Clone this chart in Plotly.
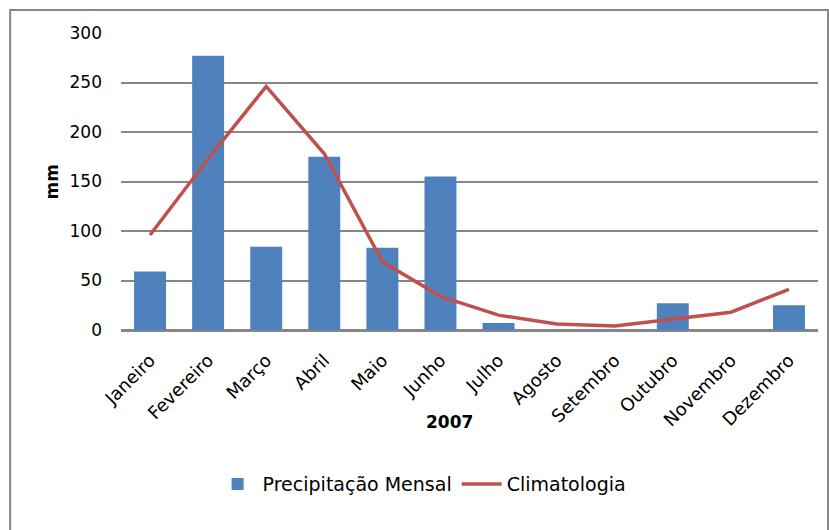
import plotly.graph_objects as go

months = ["Janeiro", "Fevereiro", "Março", "Abril", "Maio", "Junho",
          "Julho", "Agosto", "Setembro", "Outubro", "Novembro", "Dezembro"]
precipitacao = [59, 277, 84, 175, 83, 155, 7, 0, 0, 27, 0, 25]
climatologia = [96, 173, 246, 178, 69, 34, 15, 6, 4, 11, 18, 41]
y_ticks = [0, 50, 100, 150, 200, 250, 300]

FONT = "DejaVu Sans"
GRID = "#868686"

fig = go.Figure()
fig.add_trace(go.Bar(x=months, y=precipitacao, name="Precipitação Mensal",
                     marker=dict(color="#4F81BD", line=dict(width=0))))
fig.add_trace(go.Scatter(x=months, y=climatologia, name="Climatologia", mode="lines",
                         line=dict(color="#C0504D", width=3.5)))

fig.update_layout(
    width=829, height=530,
    margin=dict(l=121, r=11, t=33, b=200),
    paper_bgcolor="white", plot_bgcolor="white",
    font=dict(family=FONT, size=17, color="#000000"),
    bargap=0.45,
    showlegend=True,
    legend=dict(orientation="h", x=0.432, xanchor="center", y=-0.519, yanchor="middle",
                font=dict(family=FONT, size=19), itemwidth=40, tracegroupgap=0,
                traceorder="normal"),
    xaxis=dict(tickangle=-45, showgrid=False, showline=True, linecolor=GRID, linewidth=1.5,
               ticks="", tickfont=dict(family=FONT, size=18),
               ticklabelstandoff=11),
    yaxis=dict(range=[0, 300], tickvals=y_ticks, showgrid=True, gridcolor=GRID, gridwidth=1.5,
               zeroline=True, zerolinecolor=GRID, zerolinewidth=1.5, showline=False, ticks="",
               tickfont=dict(family=FONT, size=17), ticklabelstandoff=18),
    annotations=[
        dict(text="<b>2007</b>", xref="paper", yref="paper", x=0.472, y=-0.31,
             showarrow=False, font=dict(family=FONT, size=17), xanchor="center", yanchor="middle"),
        dict(text="<b>mm</b>", xref="paper", yref="paper", x=-0.099, y=0.5, textangle=-90,
             showarrow=False, font=dict(family=FONT, size=17), xanchor="center", yanchor="middle"),
    ],
    shapes=[
        dict(type="rect", xref="paper", yref="paper", x0=-0.159, x1=1.0143, y0=-0.75, y1=1.0774,
             line=dict(color=GRID, width=2), fillcolor="rgba(0,0,0,0)", layer="below"),
    ],
)

fig.write_html("out.html")
